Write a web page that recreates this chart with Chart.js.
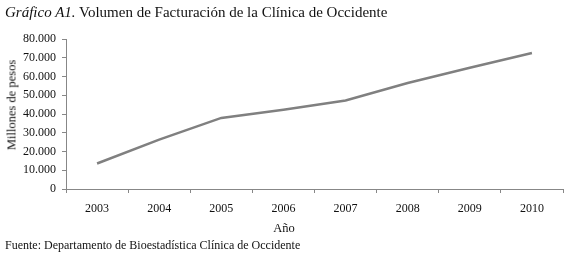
<!DOCTYPE html>
<html>
<head>
<meta charset="utf-8">
<script src="https://cdn.jsdelivr.net/npm/chart.js@4/dist/chart.umd.min.js"></script>
<style>
    body { margin: 0; background: #fff; }
    #caja { position: relative; width: 569px; height: 255px; font-family: "Liberation Serif", "DejaVu Serif", serif; color: #111; }
    #grafico { position: absolute; left: 0; top: 0; }
    .texto { position: absolute; white-space: nowrap; }
    #titulo { left: 5px; top: 4px; font-size: 15px; }
    #ejeY { left: 12px; top: 105px; font-size: 12.5px; transform: translate(-50%, -50%) rotate(-90deg); }
    #ejeX { left: 284px; top: 228px; font-size: 12.5px; transform: translate(-50%, -50%); }
    #fuente { left: 5px; top: 238px; font-size: 12px; }
</style>
</head>
<body>
<div id="caja">
    <canvas id="grafico" width="569" height="255"></canvas>
    <div class="texto" id="titulo"><i>Gráfico A1.</i> Volumen de Facturación de la Clínica de Occidente</div>
    <div class="texto" id="ejeY">Millones de pesos</div>
    <div class="texto" id="ejeX">Año</div>
    <div class="texto" id="fuente">Fuente: Departamento de Bioestadística Clínica de Occidente</div>
</div>
<script>
const anos = ['2003', '2004', '2005', '2006', '2007', '2008', '2009', '2010'];
const facturacion = [13600, 26300, 37900, 42300, 47200, 56500, 64700, 72500];
const ticksY = [0, 10000, 20000, 30000, 40000, 50000, 60000, 70000, 80000];

function formatarMiles(v) {
    return String(v).replace(/\B(?=(\d{3})+(?!\d))/g, '.');
}

const gris = '#878787';
const ctx = document.getElementById('grafico').getContext('2d');
new Chart(ctx, {
    type: 'line',
    data: {
        labels: anos,
        datasets: [{
            data: facturacion,
            borderColor: '#808080',
            borderWidth: 2.5,
            pointRadius: 0,
            tension: 0,
            fill: false
        }]
    },
    options: {
        responsive: false,
        animation: false,
        events: [],
        layout: { autoPadding: false, padding: { left: 0, top: 39, right: 6, bottom: 0 } },
        plugins: { legend: { display: false }, tooltip: { enabled: false } },
        scales: {
            x: {
                offset: true,
                grid: { offset: true, drawOnChartArea: false, drawTicks: true, tickLength: 4, color: gris },
                border: { color: gris, width: 1 },
                ticks: { color: '#111', padding: 9, maxRotation: 0, font: { family: 'Liberation Serif', size: 12 } },
                afterFit: function (escala) { escala.height = 66; }
            },
            y: {
                min: 0,
                max: 80000,
                afterBuildTicks: function (escala) { escala.ticks = ticksY.map(v => ({ value: v })); },
                grid: { drawOnChartArea: false, drawTicks: true, tickLength: 4, color: gris },
                border: { color: gris, width: 1 },
                ticks: { color: '#111', padding: 6, font: { family: 'Liberation Serif', size: 12 }, callback: v => formatarMiles(v) },
                afterFit: function (escala) { escala.width = 66; }
            }
        }
    }
});
</script>
</body>
</html>
